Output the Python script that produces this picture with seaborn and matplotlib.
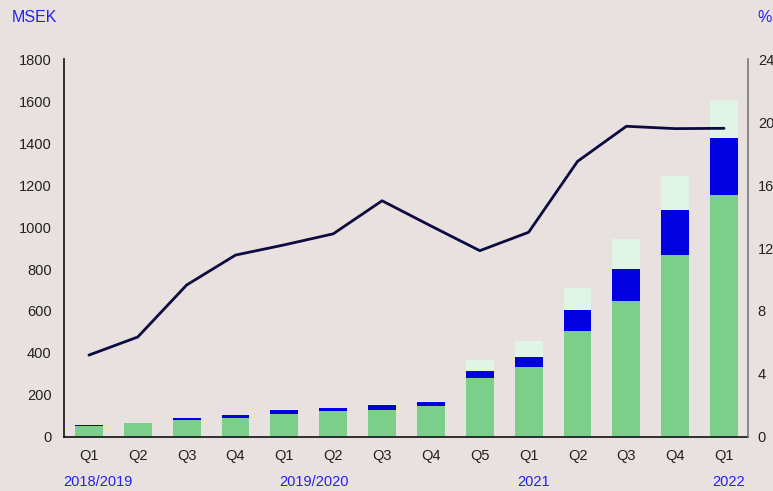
import numpy as np
import pandas as pd
import matplotlib
matplotlib.use("Agg")
import matplotlib.pyplot as plt
import seaborn as sns

# Data
kvartal = ['Q1', 'Q2', 'Q3', 'Q4', 'Q1', 'Q2', 'Q3', 'Q4', 'Q5', 'Q1', 'Q2', 'Q3', 'Q4', 'Q1']
gron = [52, 66, 80, 90, 110, 124, 129, 148, 281, 333, 505, 649, 867, 1152]
bla = [5, 0, 9, 14, 19, 14, 23, 19, 33, 48, 100, 151, 214, 272]
ljus = [0, 3, 0, 1, 3, 2, 5, 4, 53, 76, 105, 143, 162, 181]
procent = [5.2, 6.35, 9.65, 11.55, 12.2, 12.9, 15.0, 13.4, 11.83, 13.0, 17.5, 19.73, 19.58, 19.6]
ar_text = ['2018/2019', '2019/2020', '2021', '2022']
ar_pos = [0.18, 4.61, 9.1, 13.1]

bg = '#e8e1df'
c_gron = '#7bcf8b'
c_bla = '#0000e0'
c_ljus = '#e0f5e6'
c_linje = '#0b0b40'
c_text = '#2222ee'

df = pd.DataFrame({'pos': range(len(kvartal)), 'gron': gron, 'bla': bla, 'ljus': ljus})
df['mitt'] = df['gron'] + df['bla']
df['total'] = df['mitt'] + df['ljus']

sns.set_style('white')
plt.rcParams['font.family'] = ['Liberation Sans', 'DejaVu Sans']

fig = plt.figure(figsize=(7.73, 4.91), dpi=100, facecolor=bg)
ax = fig.add_axes([0.0828, 0.11, 0.8849, 0.7698])
ax.set_facecolor(bg)

# stacked bars, drawn tallest first
for kol, farg in [('total', c_ljus), ('mitt', c_bla), ('gron', c_gron)]:
    sns.barplot(data=df, x='pos', y=kol, color=farg, width=0.57, saturation=1,
                linewidth=0, edgecolor='none', ax=ax)

ax.set_xlim(-0.51, 13.49)
ax.set_ylim(0, 1800)
ax.set_yticks(np.arange(0, 1801, 200))
ax.set_xticks(range(len(kvartal)))
ax.set_xticklabels(kvartal)
ax.set_xlabel('')
ax.set_ylabel('')
ax.tick_params(axis='both', length=0, labelsize=10.5, colors='#222222')
ax.tick_params(axis='x', pad=9)
ax.tick_params(axis='y', pad=9)
for s in ['top', 'right']:
    ax.spines[s].set_visible(False)
ax.spines['left'].set_color('#111111')
ax.spines['bottom'].set_color('#111111')
ax.spines['left'].set_linewidth(1.2)
ax.spines['bottom'].set_linewidth(1.2)

# line on right axis
ax2 = ax.twinx()
sns.lineplot(x=df['pos'], y=procent, color=c_linje, linewidth=2, ax=ax2)
ax2.set_ylim(0, 24)
ax2.set_yticks(np.arange(0, 25, 4))
ax2.set_ylabel('')
ax2.tick_params(axis='y', length=0, labelsize=10.5, colors='#222222', pad=7)
for s in ['top', 'left', 'bottom']:
    ax2.spines[s].set_visible(False)
ax2.spines['right'].set_color('#777777')
ax2.spines['right'].set_linewidth(1.2)

# unit labels and year labels
fig.text(12 / 773, 1 - 17 / 491, 'MSEK', color=c_text, fontsize=11.5, va='center', ha='left')
fig.text(757 / 773, 1 - 17 / 491, '%', color=c_text, fontsize=11.5, va='center', ha='left')
for txt, x in zip(ar_text, ar_pos):
    ax.text(x, -0.12, txt, color=c_text, fontsize=10.5, ha='center', va='center',
            transform=ax.get_xaxis_transform())

fig.savefig('out.png', dpi=100, facecolor=bg)
